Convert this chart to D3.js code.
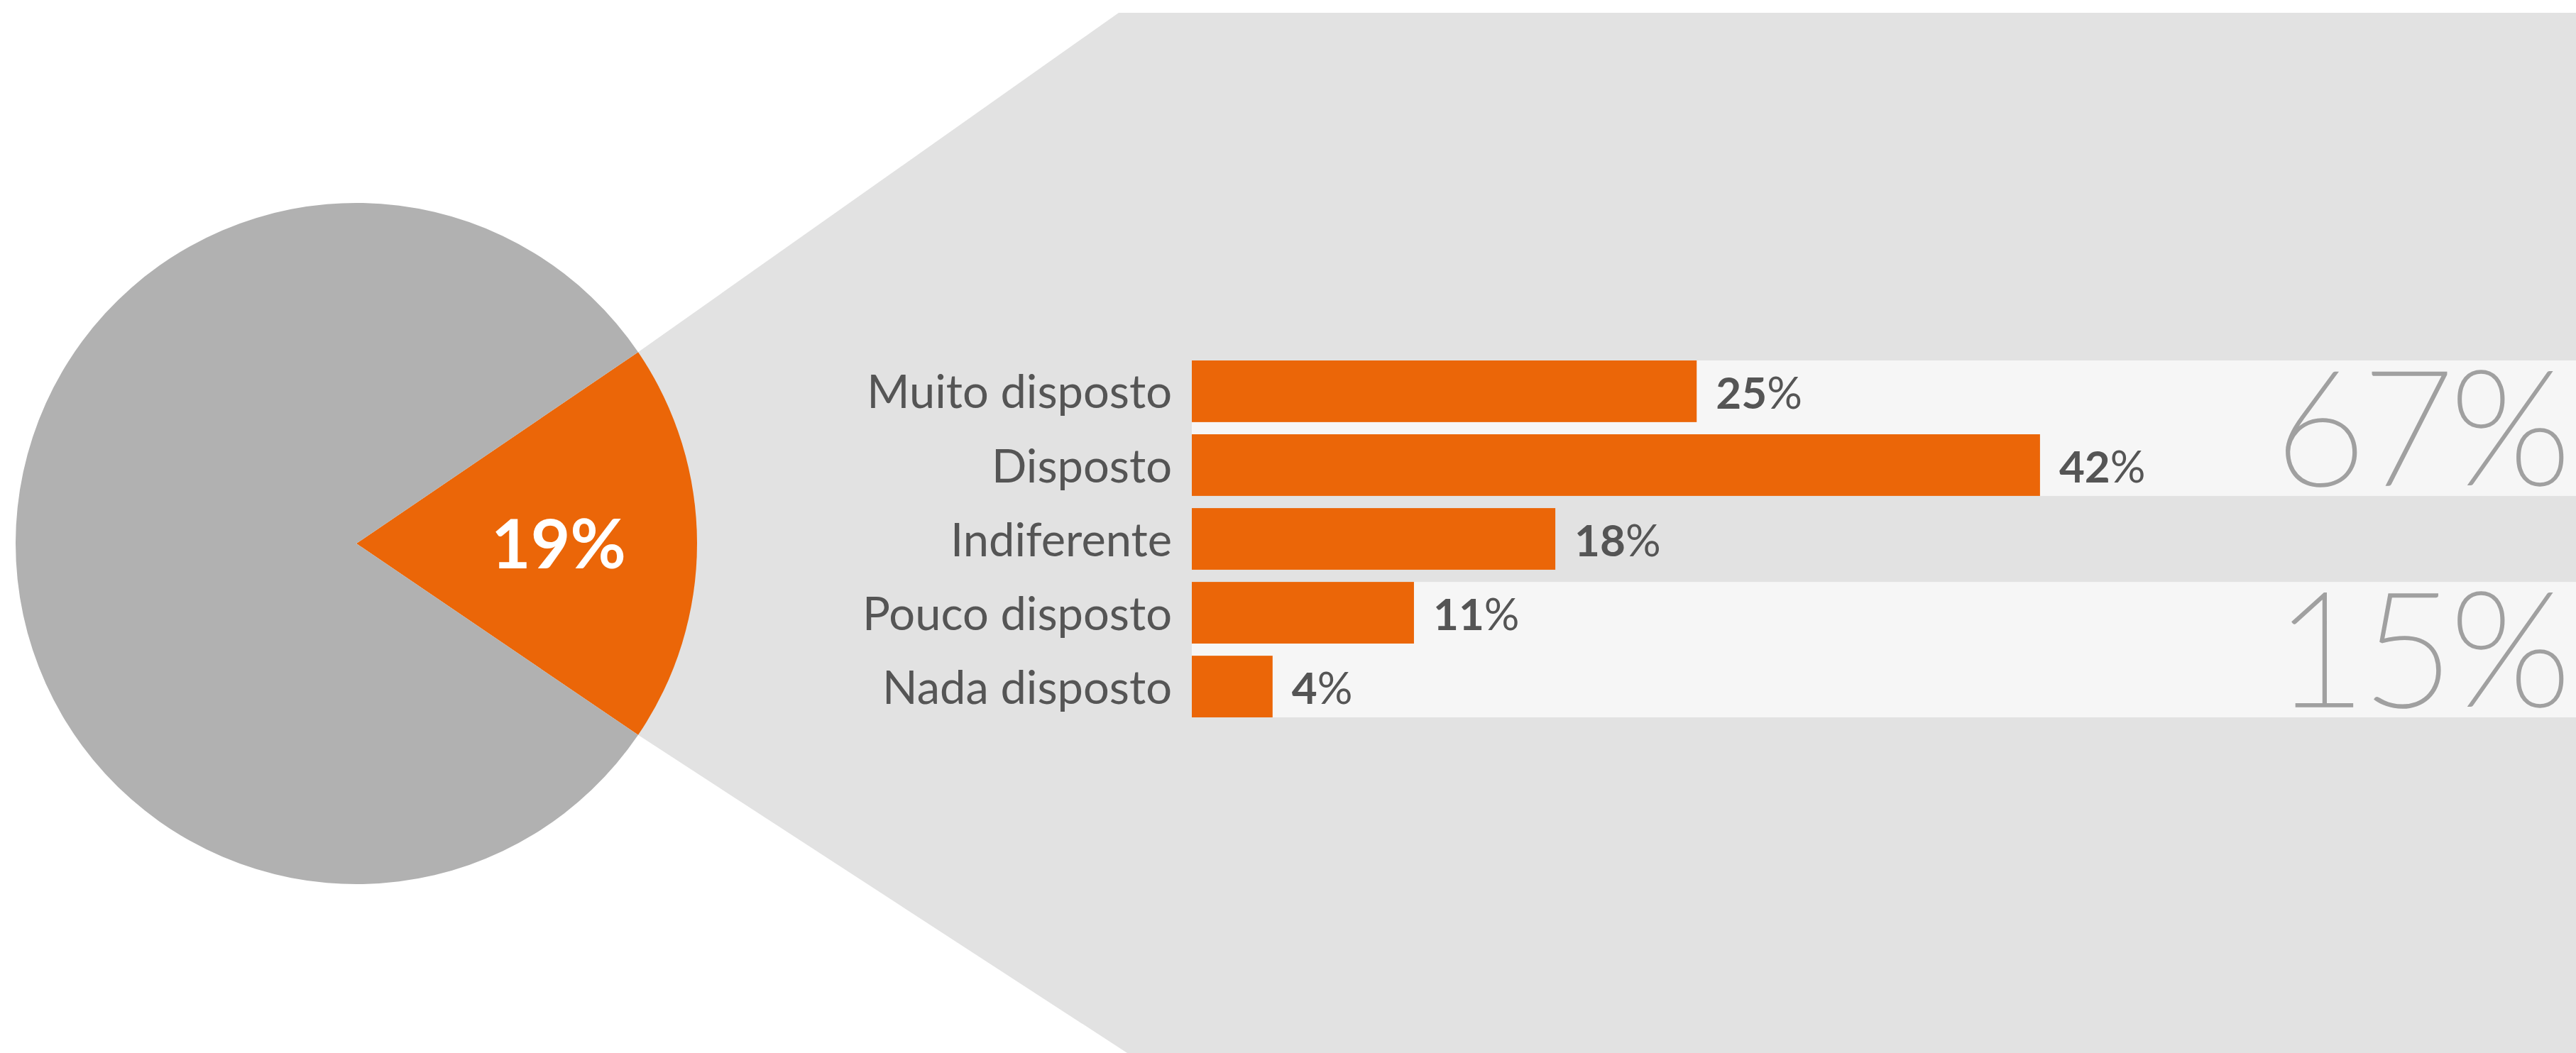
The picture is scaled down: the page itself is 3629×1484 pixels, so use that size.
<!DOCTYPE html>
<html><head><meta charset="utf-8">
<script src="https://cdn.jsdelivr.net/npm/d3@7"></script>
<style>html,body{margin:0;padding:0;background:#fff;}svg{display:block;}</style>
</head><body>
<script>
// ---- data ----
const pieLabels = ["Selecionado", "Restante"];
const pieValues = [19, 81];
const categories = ["Muito disposto", "Disposto", "Indiferente", "Pouco disposto", "Nada disposto"];
const values = [25, 42, 18, 11, 4];
const groups = [[0, 1], [3, 4]];   // indices grouped into the light bands

const W = 3629, H = 1484;
const svg = d3.select("body").append("svg").attr("width", W).attr("height", H);

// ---- pie geometry ----
const cx = 502, cy = 766, R = 480;
const frac = pieValues[0] / d3.sum(pieValues);
const start = Math.PI / 2 - frac * Math.PI;
const pie = d3.pie().sort(null).startAngle(start).endAngle(start + 2 * Math.PI);
const arcs = pie(pieValues);
const arc = d3.arc().innerRadius(0).outerRadius(R);
const pt = a => [cx + R * Math.sin(a), cy - R * Math.cos(a)];
const eTop = pt(arcs[0].startAngle), eBot = pt(arcs[0].endAngle);

// ---- funnel background ----
const topY = 18, topX = 1576, botX = 1588;
svg.append("polygon")
  .attr("points", [eTop, [topX, topY], [W, topY], [W, H], [botX, H], eBot].map(p => p.join(",")).join(" "))
  .attr("fill", "#e2e2e2");

// ---- bar scales ----
const x0 = 1679;
const x = d3.scaleLinear().domain([0, 100]).range([0, 2845]);
const y = d3.scaleBand().domain(categories).range([508, 1011]).paddingInner(0.165).paddingOuter(0);

// light bands
svg.selectAll("rect.band").data(groups).join("rect")
  .attr("class", "band")
  .attr("x", x0).attr("width", W - x0)
  .attr("y", g => y(categories[g[0]]))
  .attr("height", g => y(categories[g[g.length - 1]]) + y.bandwidth() - y(categories[g[0]]))
  .attr("fill", "#f6f6f6");

// ---- pie ----
const pg = svg.append("g").attr("transform", `translate(${cx},${cy})`);
pg.selectAll("path").data(arcs).join("path")
  .attr("d", arc)
  .attr("fill", (d, i) => i === 0 ? "#eb6608" : "#b1b1b1");
const lab = d3.arc().innerRadius(285).outerRadius(285).centroid(arcs[0]);
pg.append("text")
  .attr("x", lab[0]).attr("y", lab[1]).attr("dy", "0.36em")
  .attr("text-anchor", "middle")
  .attr("font-family", "Lato").attr("font-weight", 700).attr("font-size", 96)
  .attr("fill", "#fff")
  .text(pieValues[0] + "%");

// ---- bars ----
svg.selectAll("rect.bar").data(values).join("rect")
  .attr("class", "bar")
  .attr("x", x0)
  .attr("y", (d, i) => y(categories[i]))
  .attr("width", d => x(d))
  .attr("height", y.bandwidth())
  .attr("fill", "#eb6608");

// category labels
svg.selectAll("text.cat").data(categories).join("text")
  .attr("class", "cat")
  .attr("x", x0 - 28)
  .attr("y", d => y(d) + y.bandwidth() / 2)
  .attr("dy", "0.37em")
  .attr("text-anchor", "end")
  .attr("font-family", "Lato").attr("font-weight", 400).attr("font-size", 65)
  .attr("fill", "#555")
  .text(d => d);

// value labels
const vl = svg.selectAll("text.val").data(values).join("text")
  .attr("class", "val")
  .attr("x", d => x0 + x(d) + 27)
  .attr("y", (d, i) => y(categories[i]) + y.bandwidth() / 2)
  .attr("dy", "0.4em")
  .attr("font-family", "Lato").attr("font-size", 62)
  .attr("fill", "#555");
vl.append("tspan").attr("font-weight", 700).text(d => d);
vl.append("tspan").attr("font-weight", 400).text("%");

// group totals
svg.selectAll("text.tot").data(groups).join("text")
  .attr("class", "tot")
  .attr("x", 3616)
  .attr("y", g => y(categories[g[g.length - 1]]) + y.bandwidth() - 16)
  .attr("text-anchor", "end")
  .attr("font-family", "Lato").attr("font-weight", 100).attr("font-size", 224)
  .attr("fill", "#a0a0a0")
  .attr("stroke", "#a0a0a0").attr("stroke-width", 3.5)
  .attr("letter-spacing", -6)
  .text(g => d3.sum(g, i => values[i]) + "%");
</script>
</body></html>
